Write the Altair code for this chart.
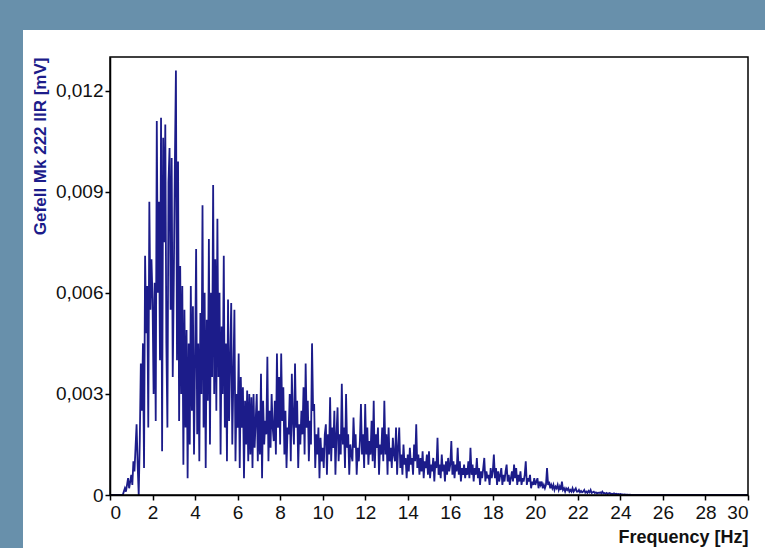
import altair as alt
import pandas as pd

# Spectrum amplitude, in units of 1e-4 mV, sampled every 0.05 Hz starting at 0 Hz (one row per Hz)
amp_e4 = [
    0, 0, 0, 0, 0, 0, 0, 0, 0, 0, 0, 0, 0, 1, 2, 1, 3, 5, 2, 4,
    6, 3, 10, 7, 14, 21, 9, 0, 16, 39, 25, 45, 8, 71, 48, 62, 20, 87, 55, 70,
    58, 30, 63, 22, 111, 60, 87, 40, 112, 13, 106, 75, 110, 45, 20, 93, 103, 55, 100, 35,
    64, 98, 126, 40, 99, 22, 68, 30, 62, 9, 55, 20, 49, 5, 45, 15, 62, 25, 56, 12,
    40, 73, 18, 45, 10, 54, 30, 86, 20, 60, 8, 52, 28, 76, 15, 60, 35, 92, 30, 70,
    25, 82, 35, 60, 12, 50, 30, 71, 20, 45, 10, 58, 22, 40, 57, 15, 35, 55, 10, 30,
    20, 42, 8, 35, 20, 32, 5, 28, 15, 31, 10, 30, 12, 29, 8, 30, 14, 22, 30, 10,
    25, 12, 36, 5, 28, 15, 22, 18, 41, 10, 25, 14, 30, 20, 16, 28, 12, 42, 20, 35,
    15, 42, 22, 32, 12, 25, 8, 20, 18, 30, 10, 36, 22, 15, 39, 20, 28, 8, 21, 15,
    25, 18, 32, 12, 39, 20, 28, 10, 22, 15, 45, 25, 27, 8, 18, 12, 20, 5, 17, 10,
    14, 8, 18, 21, 6, 18, 12, 29, 10, 20, 14, 25, 6, 18, 26, 10, 18, 12, 33, 15,
    20, 8, 30, 14, 18, 6, 15, 12, 10, 23, 14, 18, 6, 14, 10, 16, 27, 12, 18, 8,
    27, 12, 20, 9, 16, 12, 22, 10, 28, 8, 18, 14, 20, 6, 15, 12, 20, 10, 28, 12,
    18, 6, 20, 10, 14, 8, 17, 12, 10, 20, 6, 14, 20, 8, 12, 6, 15, 9, 11, 5,
    12, 7, 14, 9, 11, 6, 15, 10, 21, 8, 12, 6, 11, 7, 13, 5, 10, 8, 12, 6,
    13, 5, 9, 7, 11, 4, 10, 8, 17, 6, 9, 5, 12, 7, 9, 4, 10, 6, 11, 7,
    9, 16, 6, 10, 5, 9, 7, 14, 6, 10, 4, 8, 6, 9, 5, 8, 6, 10, 5, 14,
    6, 9, 4, 8, 6, 11, 5, 8, 3, 7, 5, 8, 11, 4, 7, 5, 6, 3, 8, 5,
    7, 12, 5, 8, 3, 7, 4, 6, 8, 3, 6, 4, 7, 9, 4, 6, 3, 5, 7, 4,
    9, 5, 8, 3, 6, 4, 7, 3, 5, 4, 6, 10, 3, 5, 4, 6, 2, 4, 3, 5,
    3, 4, 5, 2, 4, 3, 4, 2, 3, 2, 3, 8, 3, 4, 2, 3, 2, 3, 1.5, 2.5,
    2, 3, 1.5, 2.5, 1.5, 4, 1.5, 2, 1, 2, 1.5, 2, 1, 1.5, 1, 2, 1, 1.5, 2, 1,
    1, 1.5, 0.8, 1.2, 0.8, 1, 1.5, 0.7, 1, 0.6, 1.2, 0.8, 1.5, 0.6, 0.8, 1, 0.6, 0.8, 0.5, 0.7,
    0.6, 0.8, 0.5, 1, 0.5, 0.6, 0.4, 0.6, 0.3, 0.5, 0.6, 0.3, 0.4, 0.3, 0.5, 0.3, 0.4, 0.2, 0.3, 0.2,
    0.3, 0.2, 0.2, 0.1, 0.2, 0.1, 0.1, 0.1, 0.05, 0.1, 0.05, 0.05, 0, 0.05, 0, 0, 0, 0, 0, 0,
]
step_hz = 0.05
tail_freq = [25.0, 30.0]
tail_amp = [0, 0]

x_ticks = [0, 2, 4, 6, 8, 10, 12, 14, 16, 18, 20, 22, 24, 26, 28, 30]
y_ticks = [0, 0.003, 0.006, 0.009, 0.012]

freq = [round(i * step_hz, 2) for i in range(len(amp_e4))] + tail_freq
amp = [v * 1e-4 for v in amp_e4] + tail_amp
df = pd.DataFrame({"f": freq, "a": amp})

FONT = "Liberation Sans"
W, H = 638, 438

panel = alt.Chart(pd.DataFrame({"k": [0]})).mark_rect(color="white").encode(
    x=alt.value(-87), x2=alt.value(660), y=alt.value(-27), y2=alt.value(500)
)

frame = alt.Chart(pd.DataFrame({"k": [0]})).mark_rect(
    fillOpacity=0, stroke="black", strokeWidth=1.5
).encode(x=alt.value(0), x2=alt.value(W), y=alt.value(0), y2=alt.value(H))

axis_common = dict(
    labelFontSize=19,
    labelColor="#111111",
    tickSize=5,
    tickColor="black",
    domainColor="black",
    domainWidth=1.5,
    tickWidth=1.5,
    grid=False,
    zindex=2,
    titleFontWeight="bold",
    titleAnchor="end",
)

line = alt.Chart(df).mark_line(color="#1c1c8a", strokeWidth=1.8, clip=True).encode(
    x=alt.X(
        "f:Q",
        scale=alt.Scale(domain=[0, 30], nice=False),
        axis=alt.Axis(
            values=x_ticks,
            title="Frequency [Hz]",
            titleColor="#111111",
            titleFontSize=18,
            titlePadding=6,
            labelPadding=3,
            **axis_common,
        ),
    ),
    y=alt.Y(
        "a:Q",
        scale=alt.Scale(domain=[0, 0.013], nice=False),
        axis=alt.Axis(
            values=y_ticks,
            labelExpr="datum.value == 0 ? '0' : replace(format(datum.value, '.3f'), '.', ',')",
            title="Gefell Mk 222 IIR [mV]",
            titleColor="#1c1c8a",
            titleFontSize=17,
            titlePadding=6,
            labelPadding=2,
            **axis_common,
        ),
    ),
)

chart = (
    alt.layer(panel, line, frame)
    .properties(
        width=W,
        height=H,
        background="#6890ab",
        padding={"left": 110, "top": 57, "right": 17, "bottom": 53},
        autosize=alt.AutoSizeParams(type="none"),
    )
    .configure_view(stroke=None)
    .configure_axis(labelFont=FONT, titleFont=FONT)
)

chart.save("out.html", embed_options={"renderer": "svg", "actions": False})
